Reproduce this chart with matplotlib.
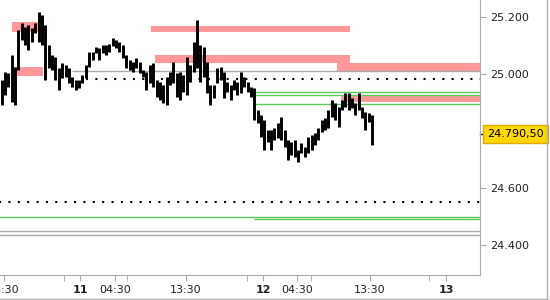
import numpy as np
import matplotlib.pyplot as plt
from matplotlib.lines import Line2D
from matplotlib.transforms import blended_transform_factory

# bar highs / lows (index points), oldest first
highs = [24980, 25008, 25005, 25068, 25026, 25156, 25181, 25167, 25174, 25163,
         25181, 25219, 25209, 25174, 25103, 25068, 25061, 25022, 25040, 25033,
         25022, 24991, 24980, 24980, 24998, 25033, 25079, 25079, 25096, 25093,
         25103, 25103, 25107, 25128, 25121, 25114, 25103, 25068, 25051, 25044,
         25058, 25044, 25015, 25008, 25033, 25040, 24980, 24973, 24963, 24991,
         25008, 25044, 25005, 25008, 24998, 25061, 25033, 25114, 25191, 25103,
         25096, 25044, 24963, 24963, 25022, 25026, 25008, 24973, 24963, 24980,
         24973, 25008, 24991, 24973, 24956, 24952, 24875, 24857, 24840, 24804,
         24804, 24811, 24829, 24850, 24804, 24769, 24762, 24769, 24734, 24759,
         24745, 24780, 24787, 24794, 24811, 24840, 24847, 24875, 24910, 24899,
         24885, 24910, 24935, 24935, 24917, 24899, 24935, 24885, 24868, 24864,
         24857]
lows = [24892, 24928, 24956, 24903, 24892, 25015, 25121, 25103, 25086, 25114,
        25146, 25114, 25103, 24980, 25022, 25015, 24980, 24945, 24987, 24991,
        24970, 24956, 24945, 24952, 24970, 24987, 25026, 25051, 25075, 25051,
        25075, 25068, 25079, 25100, 25093, 25079, 25058, 25022, 25015, 25008,
        25022, 25005, 24991, 24945, 24970, 24956, 24920, 24910, 24899, 24892,
        24963, 24970, 24920, 24910, 24938, 24928, 24973, 25008, 25022, 24973,
        24991, 24935, 24892, 24917, 24970, 24980, 24917, 24938, 24910, 24945,
        24928, 24935, 24956, 24938, 24920, 24840, 24829, 24780, 24734, 24762,
        24734, 24769, 24776, 24769, 24745, 24699, 24717, 24710, 24692, 24724,
        24710, 24724, 24734, 24752, 24769, 24797, 24804, 24811, 24850, 24840,
        24815, 24875, 24885, 24875, 24882, 24857, 24875, 24847, 24804, 24833,
        24752]
last_close = 24790.5

# shaded zones (hours since day 10 00:00)
zone_from = [15.1, 15.5, 33.3, 33.8, 57.7, 58.2]
zone_to = [18.75, 19.15, 59.4, 59.4, 80, 80]
zone_top = [25184, 25026, 25170, 25068, 25040, 24924]
zone_bottom = [25149, 24994, 25149, 25040, 25008, 24903]

green_levels = [24938, 24927, 24896, 24498, 24490]
green_from = [46.95, 46.95, 46.95, 10, 46.8]
gray_levels = [25012, 24449, 24435]
gray_from = [22.95, 10, 10]
dotted_levels = [24985, 24552]
dotted_from = [24.8, 10]

xtick_pos = [14.0, 24, 28.6, 37.9, 48, 52.5, 62.0, 72]
xtick_labels = ['13:30', '11', '04:30', '13:30', '12', '04:30', '13:30', '13']
xtick_minor = [21.9, 30.2, 45.9, 54.3, 69.8]
ytick_pos = [24400, 24600, 25000, 25200]

times = 13.7 + 0.442 * np.arange(len(highs))

fig = plt.figure(figsize=(5.5, 3), dpi=100)
ax = fig.add_axes([0, 25 / 300, 480 / 550, 275 / 300])

for x0, x1, lo, hi in zip(zone_from, zone_to, zone_bottom, zone_top):
    ax.fill_between([x0, x1], lo, hi, color='#ff9999', lw=0, zorder=1)

ax.hlines(green_levels, green_from, 80, color='#5cc85c', lw=1, zorder=2)
ax.hlines(gray_levels, gray_from, 80, color='#aaaaaa', lw=1, zorder=2)
ax.hlines(dotted_levels, dotted_from, 80, color='black', lw=1.5,
          linestyles=(0, (1, 3.5)), zorder=2)

ax.vlines(times, lows, highs, color='black', lw=2.1, zorder=3)

ax.set_xlim(13.5, 76.46)
ax.set_ylim(24294.5, 25261.5)

ax.spines['top'].set_visible(False)
ax.spines['left'].set_visible(False)
ax.spines['right'].set_color('#aaaaaa')
ax.spines['bottom'].set_color('#aaaaaa')

ax.yaxis.tick_right()
ax.set_yticks(ytick_pos)
ax.set_yticklabels([f'{v:,.0f}'.replace(',', '.') for v in ytick_pos])
ax.set_xticks(xtick_pos)
ax.set_xticklabels(xtick_labels)
ax.set_xticks(xtick_minor, minor=True)
ax.tick_params(axis='both', which='both', direction='out', length=4,
               color='#aaaaaa', labelsize=8, labelcolor='#222222', pad=3)
for lbl in ax.get_xticklabels():
    if ':' not in lbl.get_text():
        lbl.set_fontweight('bold')

# current price marker
trans = blended_transform_factory(ax.transAxes, ax.transData)
ax.plot([1.0, 1.012], [last_close, last_close], color='black', lw=1,
        transform=trans, clip_on=False)
price_txt = f'{last_close:,.2f}'.replace(',', '#').replace('.', ',').replace('#', '.')
ax.text(1.015, last_close, price_txt, transform=trans, fontsize=8,
        va='center', ha='left', color='black',
        bbox=dict(boxstyle='square,pad=0.4', fc='#ffd700', ec='#e0a800', lw=1))

# outer frame lines
fig.add_artist(Line2D([0, 547 / 550], [1 / 300, 1 / 300], color='#b0b0b0', lw=1))
fig.add_artist(Line2D([547 / 550, 547 / 550], [1 / 300, 1], color='#b0b0b0', lw=1))

fig.savefig('out.png', dpi=100)
